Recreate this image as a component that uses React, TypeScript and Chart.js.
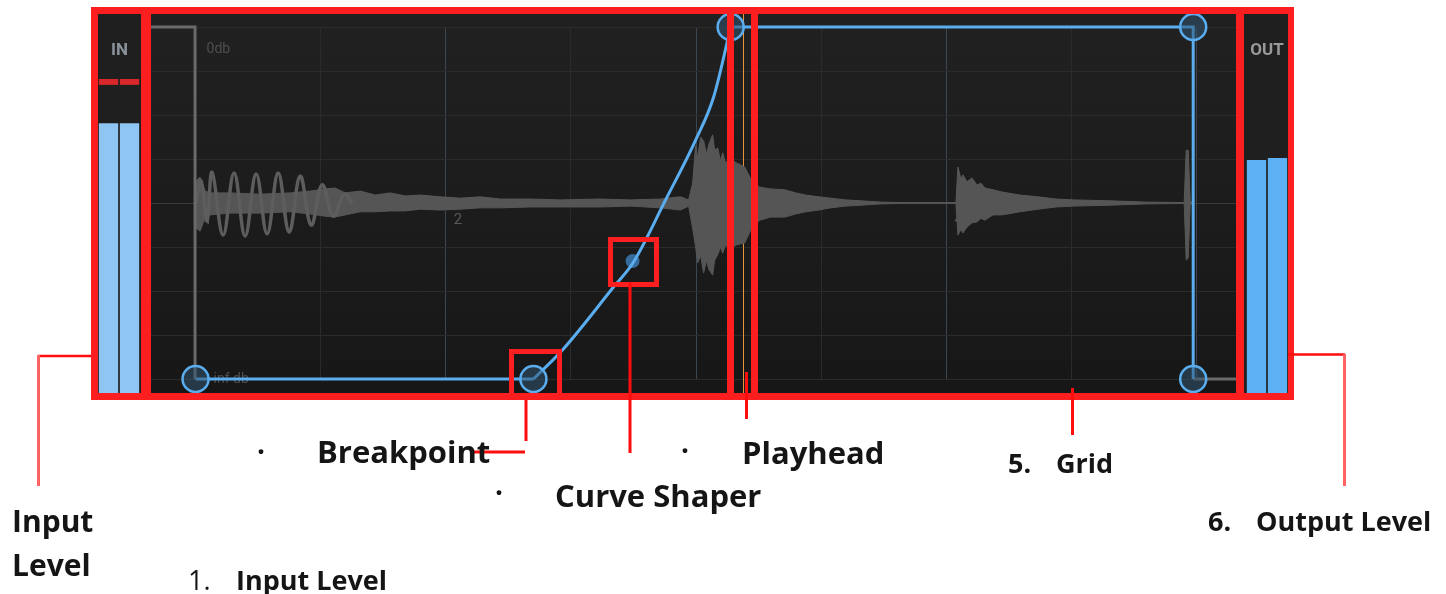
import React, { useEffect, useRef } from 'react';
import { Chart, registerables } from 'chart.js';

Chart.register(...registerables);

// ---------------- data ----------------
// timeline in bars; level axis 0 = "inf db", 8 = "0db"
const barTicks = [1, 1.5, 2, 2.5, 3, 3.5, 4, 4.5, 5];
const barNumbers = [1, 2, 3, 4];
const xMin = 0.822;
const xMax = 5.157;
const levelMin = 0;
const levelMax = 8;
const playheadBar = 3.186;

// envelope breakpoints
const breakpointX = [1, 2.35, 3.138, 4.986, 4.986];
const breakpointY = [0, 0, 8, 8, 0];
// straight envelope segments
const envLowX = [1, 2.35];
const envLowY = [0, 0];
const envHighX = [3.138, 4.986, 4.986];
const envHighY = [8, 8, 0];
// curved segment
const curveX = [2.35, 2.466, 2.67, 2.75, 2.878, 2.998, 3.07, 3.126, 3.138];
const curveY = [0, 0.66, 2.09, 2.66, 4.07, 5.43, 6.41, 7.7, 8];
// curve shaper handle
const shaperX = [2.746];
const shaperY = [2.68];
// neighbouring (grey) envelope
const ghostLeftX = [0.822, 0.998, 0.998];
const ghostLeftY = [8, 8, 0];
const ghostRightX = [4.986, 5.157];
const ghostRightY = [0, 0];

// waveform envelope (amplitude axis, 1 unit = one grid row)
const waveX = [
  0.998, 1.002, 1.018, 1.038, 1.058, 1.138, 1.258, 1.378, 1.458, 1.518, 1.558, 1.598, 1.658, 1.718, 1.778, 1.838, 1.898, 1.978, 2.058, 2.138, 2.218, 2.338, 2.458, 2.618, 2.738, 2.858, 2.938, 2.97,
  2.986, 2.998, 3.006, 3.018, 3.03, 3.042, 3.05, 3.066, 3.074, 3.086, 3.098, 3.106, 3.118, 3.13,
  3.162, 3.194, 3.222, 3.254, 3.298, 3.354, 3.398, 3.438, 3.49, 3.538, 3.598, 3.658, 3.738, 3.818, 4.038,
  4.046, 4.058, 4.066, 4.082, 4.102, 4.122, 4.138, 4.154, 4.186, 4.222, 4.294, 4.366, 4.438, 4.51, 4.654, 4.794, 4.95,
  4.958, 4.966, 4.974, 4.982,
];
const waveHi = [
  0, 0.5, 0.59, 0.27, 0.23, 0.23, 0.2, 0.23, 0.27, 0.32, 0.34, 0.23, 0.27, 0.18, 0.23, 0.16, 0.18, 0.14, 0.11, 0.14, 0.09, 0.09, 0.07, 0.09, 0.07, 0.09, 0.14, 0.07,
  0.45, 1.3, 1.02, 1.5, 1.41, 1.1, 1.32, 1.55, 1.2, 1.25, 0.95, 1.14, 0.9, 1.0,
  0.91, 0.82, 0.5, 0.36, 0.32, 0.3, 0.23, 0.18, 0.14, 0.11, 0.07, 0.05, 0.02, 0.01, 0.01,
  0.82, 0.55, 0.64, 0.48, 0.57, 0.41, 0.45, 0.34, 0.3, 0.25, 0.18, 0.14, 0.09, 0.07, 0.05, 0.02, 0.01,
  1.2, 1.2, 0.05, 0,
];
const waveLo = [
  0, -0.57, -0.64, -0.34, -0.27, -0.23, -0.23, -0.2, -0.25, -0.3, -0.32, -0.27, -0.2, -0.2, -0.18, -0.18, -0.14, -0.16, -0.14, -0.11, -0.11, -0.09, -0.09, -0.09, -0.07, -0.11, -0.16, -0.07,
  -0.57, -1.0, -1.36, -1.2, -1.59, -1.3, -1.5, -1.64, -1.3, -1.18, -1.0, -1.14, -0.95, -1.05,
  -0.95, -0.91, -0.57, -0.39, -0.32, -0.32, -0.25, -0.2, -0.16, -0.11, -0.07, -0.05, -0.02, -0.01, -0.01,
  -0.73, -0.6, -0.68, -0.55, -0.45, -0.43, -0.35, -0.39, -0.27, -0.27, -0.2, -0.14, -0.09, -0.07, -0.05, -0.02, -0.01,
  -1.3, -1.25, -0.05, 0,
];
// low-frequency oscillation in bar 1
const oscX = [1.002, 1.022, 1.046, 1.066, 1.11, 1.154, 1.198, 1.242, 1.286, 1.33, 1.374, 1.418, 1.462, 1.506, 1.55, 1.594, 1.626];
const oscY = [0, 0.5, -0.41, 0.7, -0.73, 0.68, -0.75, 0.66, -0.7, 0.68, -0.66, 0.61, -0.5, 0.41, -0.3, 0.2, 0];

// meters (0-100 % of meter height)
const meterChannels = ['L', 'R'];
const inLevels = [71.2, 71.2];
const inClipLow = [81.3, 81.3];
const inClipHigh = [82.85, 82.85];
const outLevels = [61.5, 62.0];

// ---------------- styles ----------------
const W = 1446;
const H = 594;
const BLUE = '#5aaef0';
const RED = '#fd1f1f';
const LEADER = '#ff0d0d';
const LEADER_LIGHT = '#ff6262';

const pts = (xs: number[], ys: number[]) => xs.map((x, i) => ({ x, y: ys[i] }));

const panelPlugin = {
  id: 'panel',
  beforeDraw(chart: any) {
    const { ctx } = chart;
    ctx.save();
    ctx.fillStyle = '#ffffff';
    ctx.fillRect(0, 0, W, H);
    ctx.fillStyle = '#1d1d1d';
    ctx.fillRect(91, 7, 1203, 393);
    const g = ctx.createLinearGradient(0, 14, 0, 393);
    g.addColorStop(0, '#212121');
    g.addColorStop(1, '#171717');
    ctx.fillStyle = g;
    ctx.fillRect(151, 14, 1085, 379);
    ctx.fillStyle = '#1f1f1f';
    ctx.fillRect(98, 14, 43, 379);
    ctx.fillRect(1244, 14, 44, 379);
    ctx.font = '700 17px Roboto';
    ctx.textAlign = 'center';
    ctx.textBaseline = 'alphabetic';
    ctx.fillStyle = '#8a939c';
    ctx.fillText('IN', 119.5, 55);
    ctx.fillStyle = '#9a9a9a';
    ctx.fillText('OUT', 1267, 55);
    ctx.restore();
  },
  beforeDatasetsDraw(chart: any) {
    const { ctx, scales } = chart;
    const x = scales.x;
    const y = scales.y;
    ctx.save();
    ctx.textAlign = 'left';
    ctx.textBaseline = 'alphabetic';
    ctx.font = '14px Roboto';
    ctx.fillStyle = '#4e4e4e';
    ctx.fillText('0db', x.getPixelForValue(1) + 11, y.getPixelForValue(levelMax) + 26);
    ctx.fillText('inf db', x.getPixelForValue(1) + 18, y.getPixelForValue(levelMin) + 4);
    ctx.font = '15px Roboto';
    ctx.fillStyle = '#595959';
    barNumbers.forEach((b) => {
      ctx.fillText(String(b), x.getPixelForValue(b) + 8, y.getPixelForValue(4) + 21);
    });
    const px = Math.round(x.getPixelForValue(playheadBar)) + 0.5;
    ctx.strokeStyle = '#e8963c';
    ctx.lineWidth = 1;
    ctx.beginPath();
    ctx.moveTo(px, 14);
    ctx.lineTo(px, 393);
    ctx.stroke();
    ctx.restore();
  },
  afterDraw(chart: any) {
    const { ctx } = chart;
    ctx.save();
    ctx.fillStyle = RED;
    ctx.fillRect(91, 7, 1203, 7);
    ctx.fillRect(91, 393, 1203, 7);
    ctx.fillRect(91, 7, 7, 393);
    ctx.fillRect(1288, 7, 6, 393);
    ctx.fillRect(141, 7, 10, 393);
    ctx.fillRect(1236, 7, 8, 393);
    ctx.fillRect(727, 7, 7, 393);
    ctx.fillRect(751, 7, 7, 393);
    ctx.strokeStyle = RED;
    ctx.lineWidth = 5;
    ctx.strokeRect(511.5, 351.5, 48, 45);
    ctx.strokeRect(610.5, 239.5, 46, 45);
    const line = (color: string, w: number, p: number[][]) => {
      ctx.strokeStyle = color;
      ctx.lineWidth = w;
      ctx.beginPath();
      ctx.moveTo(p[0][0], p[0][1]);
      for (let i = 1; i < p.length; i++) ctx.lineTo(p[i][0], p[i][1]);
      ctx.stroke();
    };
    line(LEADER, 2.5, [[91, 356], [38, 356]]);
    line(LEADER_LIGHT, 3, [[38.5, 355], [38.5, 486]]);
    line(LEADER, 3, [[526, 400], [526, 441]]);
    line(LEADER, 3, [[470, 452], [525, 452]]);
    line(LEADER, 3, [[630, 282], [630, 453]]);
    line(LEADER, 3, [[746.5, 372], [746.5, 419]]);
    line(LEADER, 3, [[1072.5, 388], [1072.5, 435]]);
    line(LEADER, 2.5, [[1288, 354.5], [1345, 354.5]]);
    line(LEADER_LIGHT, 3, [[1344.5, 354], [1344.5, 486]]);
    ctx.restore();
  },
};

function MainChart() {
  const ref = useRef<HTMLCanvasElement | null>(null);
  useEffect(() => {
    const chart = new Chart(ref.current as HTMLCanvasElement, {
      type: 'line',
      data: {
        datasets: [
          {
            label: 'breakpoints',
            data: pts(breakpointX, breakpointY),
            showLine: false,
            pointRadius: 13,
            pointHoverRadius: 13,
            pointBorderWidth: 2.5,
            pointBorderColor: BLUE,
            pointBackgroundColor: 'rgba(50,85,115,0.55)',
            clip: false,
          },
          {
            label: 'envLow',
            data: pts(envLowX, envLowY),
            borderColor: BLUE,
            borderWidth: 3,
            pointRadius: 0,
            tension: 0,
            clip: false,
          },
          {
            label: 'envHigh',
            data: pts(envHighX, envHighY),
            borderColor: BLUE,
            borderWidth: 3,
            pointRadius: 0,
            tension: 0,
            clip: false,
          },
          {
            label: 'curve',
            data: pts(curveX, curveY),
            borderColor: BLUE,
            borderWidth: 3,
            pointRadius: 0,
            cubicInterpolationMode: 'monotone',
            clip: false,
          },
          {
            label: 'shaper',
            data: pts(shaperX, shaperY),
            showLine: false,
            pointRadius: 7,
            pointBorderWidth: 0,
            pointBackgroundColor: 'rgba(58,118,170,0.9)',
            clip: false,
          },
          {
            label: 'ghostLeft',
            data: pts(ghostLeftX, ghostLeftY),
            borderColor: '#6a6a6a',
            borderWidth: 3,
            pointRadius: 0,
            tension: 0,
            clip: false,
          },
          {
            label: 'ghostRight',
            data: pts(ghostRightX, ghostRightY),
            borderColor: '#6a6a6a',
            borderWidth: 3,
            pointRadius: 0,
            tension: 0,
            clip: false,
          },
          {
            label: 'osc',
            yAxisID: 'amp',
            data: pts(oscX, oscY),
            borderColor: '#5d5d5d',
            borderWidth: 3.5,
            pointRadius: 0,
            tension: 0.4,
          },
          {
            label: 'waveHi',
            yAxisID: 'amp',
            data: pts(waveX, waveHi),
            borderColor: '#585858',
            borderWidth: 1,
            pointRadius: 0,
            tension: 0,
            fill: '+1',
            backgroundColor: '#555555',
          },
          {
            label: 'waveLo',
            yAxisID: 'amp',
            data: pts(waveX, waveLo),
            borderColor: '#585858',
            borderWidth: 1,
            pointRadius: 0,
            tension: 0,
            fill: false,
          },
        ],
      },
      options: {
        responsive: false,
        animation: false,
        devicePixelRatio: 1,
        events: [],
        layout: { padding: { left: 151, top: 27, right: W - 1236, bottom: H - 379 } },
        plugins: { legend: { display: false }, tooltip: { enabled: false } },
        scales: {
          x: {
            type: 'linear',
            min: xMin,
            max: xMax,
            afterBuildTicks: (s: any) => {
              s.ticks = barTicks.map((v) => ({ value: v }));
            },
            ticks: { display: false },
            border: { display: false },
            grid: {
              drawTicks: false,
              lineWidth: 1,
              color: (c: any) => (c.tick && Number.isInteger(c.tick.value) ? '#3a4753' : '#2b2b2b'),
            },
          },
          y: {
            type: 'linear',
            min: levelMin,
            max: levelMax,
            ticks: { display: false, stepSize: 1 },
            border: { display: false },
            grid: {
              drawTicks: false,
              lineWidth: 1,
              color: (c: any) => (c.tick && c.tick.value === 4 ? '#3a3a3a' : '#2b2b2b'),
            },
          },
          amp: {
            type: 'linear',
            display: false,
            min: -4,
            max: 4,
          },
        },
      },
      plugins: [panelPlugin],
    } as any);
    return () => chart.destroy();
  }, []);
  return <canvas ref={ref} width={W} height={H} style={{ position: 'absolute', left: 0, top: 0 }} />;
}

function Meter({ left, levels, color, clipLow, clipHigh }: any) {
  const ref = useRef<HTMLCanvasElement | null>(null);
  useEffect(() => {
    const datasets: any[] = [
      {
        data: levels,
        backgroundColor: color,
        barPercentage: 0.92,
        categoryPercentage: 1,
        grouped: false,
      },
    ];
    if (clipLow) {
      datasets.push({
        data: clipLow.map((v: number, i: number) => [v, clipHigh[i]]),
        backgroundColor: '#d8262a',
        barPercentage: 0.92,
        categoryPercentage: 1,
        grouped: false,
      });
    }
    const chart = new Chart(ref.current as HTMLCanvasElement, {
      type: 'bar',
      data: { labels: meterChannels, datasets },
      options: {
        responsive: false,
        animation: false,
        devicePixelRatio: 1,
        events: [],
        layout: { padding: 0 },
        plugins: { legend: { display: false }, tooltip: { enabled: false } },
        scales: {
          x: { display: false },
          y: { display: false, min: 0, max: 100 },
        },
      },
    } as any);
    return () => chart.destroy();
  }, []);
  return <canvas ref={ref} width={42} height={379} style={{ position: 'absolute', left, top: 14 }} />;
}

const labels = [
  { text: 'Input', x: 12, base: 533, size: 30, weight: 700 },
  { text: 'Level', x: 12, base: 577, size: 30, weight: 700 },
  { text: '·', x: 257, base: 462, size: 28, weight: 700 },
  { text: 'Breakpoint', x: 317, base: 464, size: 31, weight: 700 },
  { text: '·', x: 495, base: 503, size: 28, weight: 700 },
  { text: 'Curve Shaper', x: 555, base: 508, size: 31, weight: 700 },
  { text: '·', x: 681, base: 461, size: 28, weight: 700 },
  { text: 'Playhead', x: 742, base: 465, size: 31, weight: 700 },
  { text: '5.', x: 1008, base: 473, size: 27, weight: 700 },
  { text: 'Grid', x: 1056, base: 473, size: 27, weight: 700 },
  { text: '6.', x: 1208, base: 531, size: 27, weight: 700 },
  { text: 'Output Level', x: 1256, base: 531, size: 27, weight: 700 },
  { text: '1.', x: 188, base: 590, size: 27, weight: 400 },
  { text: 'Input Level', x: 236, base: 590, size: 27, weight: 700 },
];

export default function App() {
  return (
    <div style={{ position: 'absolute', left: 0, top: 0, width: W, height: H, overflow: 'hidden', background: '#fff' }}>
      <MainChart />
      <Meter left={98} levels={inLevels} color="#8fc5f3" clipLow={inClipLow} clipHigh={inClipHigh} />
      <Meter left={1246} levels={outLevels} color="#5db0f3" />
      {labels.map((l, i) => (
        <div
          key={i}
          style={{
            position: 'absolute',
            left: l.x,
            top: l.base - 0.888 * l.size,
            fontFamily: '"Open Sans", sans-serif',
            fontWeight: l.weight,
            fontSize: l.size,
            lineHeight: `${l.size}px`,
            color: '#151515',
            whiteSpace: 'nowrap',
          }}
        >
          {l.text}
        </div>
      ))}
    </div>
  );
}
